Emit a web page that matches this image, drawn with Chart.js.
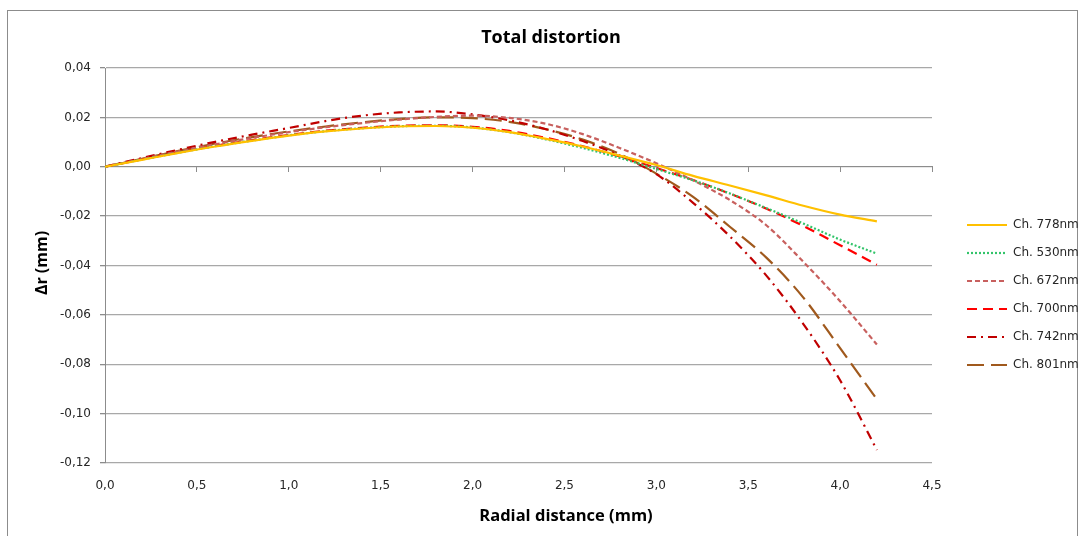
<!DOCTYPE html>
<html>
<head>
<meta charset="utf-8">
<script src="https://cdn.jsdelivr.net/npm/chart.js@4.4.1/dist/chart.umd.min.js"></script>
<style>
  body { margin: 0; background: #fff; }
  #wrap { width: 1080px; height: 536px; }
</style>
</head>
<body>
<div id="wrap"><canvas id="distChart" width="1080" height="536"></canvas></div>
<script>
// radial distance (mm)
var radius = [0.0, 0.2, 0.4, 0.6, 0.8, 1.0, 1.2, 1.4, 1.6, 1.8, 2.0,
              2.2, 2.4, 2.6, 2.8, 3.0, 3.2, 3.4, 3.6, 3.8, 4.0, 4.2];

// delta r (mm) per channel
var ch778 = [0, 0.0028, 0.0056, 0.0082, 0.0105, 0.0126, 0.0143, 0.0155, 0.0163, 0.0165, 0.0158,
             0.0140, 0.0113, 0.0082, 0.0045, 0.0007, -0.0037, -0.0076, -0.0116, -0.0158, -0.0194, -0.0221];
var ch530 = [0, 0.0029, 0.0057, 0.0083, 0.0106, 0.0127, 0.0144, 0.0156, 0.0164, 0.0166, 0.0159,
             0.0140, 0.0111, 0.0076, 0.0036, -0.0009, -0.0055, -0.0108, -0.0168, -0.0230, -0.0295, -0.0352];
var ch672 = [0, 0.0031, 0.0062, 0.0091, 0.0117, 0.0140, 0.0160, 0.0177, 0.0191, 0.0202, 0.0207,
             0.0198, 0.0174, 0.0132, 0.0076, 0.0014, -0.0055, -0.0135, -0.0238, -0.0385, -0.0545, -0.0720];
var ch700 = [0, 0.0030, 0.0058, 0.0085, 0.0108, 0.0129, 0.0146, 0.0158, 0.0166, 0.0168, 0.0162,
             0.0145, 0.0117, 0.0083, 0.0042, -0.0005, -0.0054, -0.0109, -0.0170, -0.0240, -0.0318, -0.0397];
var ch742 = [0, 0.0035, 0.0069, 0.0101, 0.0130, 0.0157, 0.0185, 0.0207, 0.0220, 0.0224, 0.0212,
             0.0188, 0.0152, 0.0104, 0.0046, -0.0030, -0.0146, -0.0282, -0.0442, -0.0637, -0.0865, -0.1147];
var ch801 = [0, 0.0032, 0.0064, 0.0094, 0.0120, 0.0143, 0.0163, 0.0180, 0.0193, 0.0200, 0.0197,
             0.0182, 0.0152, 0.0110, 0.0052, -0.0028, -0.0122, -0.0243, -0.0369, -0.0530, -0.0735, -0.0942];

var seriesNames = ['Ch. 778nm', 'Ch. 530nm', 'Ch. 672nm', 'Ch. 700nm', 'Ch. 742nm', 'Ch. 801nm'];

var yTicks = [0.04, 0.02, 0.00, -0.02, -0.04, -0.06, -0.08, -0.10, -0.12];
var xTicks = [0.0, 0.5, 1.0, 1.5, 2.0, 2.5, 3.0, 3.5, 4.0, 4.5];

var chartTitle = 'Total distortion';
var xTitle = 'Radial distance (mm)';
var yTitle = '\u0394r (mm)';

function pts(values) {
  return values.map(function(v, i) { return { x: radius[i], y: v }; });
}

function line(label, values, color, dash) {
  return {
    label: label,
    data: pts(values),
    borderColor: color,
    backgroundColor: color,
    borderWidth: 2.2,
    borderDash: dash,
    borderCapStyle: 'butt',
    pointRadius: 0,
    fill: false,
    cubicInterpolationMode: 'monotone'
  };
}

var comma = function(v, d) { return v.toFixed(d).replace('.', ','); };

// frame + titles like the spreadsheet export
var decor = {
  id: 'decor',
  beforeDraw: function(chart) {
    var c = chart.ctx;
    c.save();
    c.strokeStyle = '#8c8c8c';
    c.lineWidth = 1;
    c.strokeRect(7.5, 10.5, 1070, 540);
    c.restore();
  },
  afterDraw: function(chart) {
    var c = chart.ctx;
    c.save();
    c.fillStyle = '#000';
    c.textAlign = 'center';
    c.textBaseline = 'alphabetic';
    c.font = 'bold 18px "Open Sans"';
    c.fillText(chartTitle, 551, 43);
    c.font = 'bold 16.5px "Open Sans"';
    c.fillText(xTitle, 566, 521);
    c.translate(42, 263);
    c.rotate(-Math.PI / 2);
    c.textBaseline = 'middle';
    c.font = 'bold 16px "Open Sans"';
    c.fillText(yTitle, 0, 0);
    c.restore();
  }
};

// legend samples should carry the dataset's dash pattern
function legendLabels(chart) {
  var items = Chart.defaults.plugins.legend.labels.generateLabels(chart);
  items.forEach(function(it) {
    var ds = chart.data.datasets[it.datasetIndex];
    it.lineDash = ds.borderDash;
    it.lineWidth = ds.borderWidth;
    it.strokeStyle = ds.borderColor;
    it.lineCap = 'butt';
  });
  return items;
}

new Chart(document.getElementById('distChart').getContext('2d'), {
  type: 'line',
  data: {
    datasets: [
      line(seriesNames[0], ch778, '#FFC000', []),
      line(seriesNames[1], ch530, '#33C46A', [2, 2]),
      line(seriesNames[2], ch672, '#C8605E', [5, 3]),
      line(seriesNames[3], ch700, '#FF0000', [10, 6]),
      line(seriesNames[4], ch742, '#C00000', [9, 5, 2, 5]),
      line(seriesNames[5], ch801, '#A0591D', [17, 7])
    ]
  },
  options: {
    responsive: false,
    animation: false,
    layout: { padding: { top: 68, left: 0, right: 0, bottom: 14 } },
    plugins: {
      title: { display: false },
      tooltip: { enabled: false },
      legend: {
        position: 'right',
        maxWidth: 129,
        labels: {
          usePointStyle: true,
          pointStyle: 'line',
          pointStyleWidth: 40,
          padding: 16,
          color: '#262626',
          font: { family: 'DejaVu Sans', size: 12 },
          generateLabels: legendLabels
        }
      }
    },
    scales: {
      x: {
        type: 'linear',
        position: 'bottom',
        min: 0,
        max: 4.5,
        afterBuildTicks: function(s) { s.ticks = xTicks.map(function(v) { return { value: v }; }); },
        afterFit: function(s) { s.height = 59; },
        grid: { display: false },
        border: { display: false },
        ticks: {
          padding: 8,
          color: '#262626',
          font: { family: 'DejaVu Sans', size: 12 },
          callback: function(v) { return comma(v, 1); }
        }
      },
      xZero: {
        type: 'linear',
        axis: 'x',
        position: { y: 0 },
        min: 0,
        max: 4.5,
        afterBuildTicks: function(s) { s.ticks = xTicks.map(function(v) { return { value: v }; }); },
        grid: { drawOnChartArea: false, drawTicks: true, tickLength: 5, color: '#8c8c8c' },
        border: { display: true, color: '#8c8c8c', width: 1 },
        ticks: { display: false }
      },
      y: {
        position: 'left',
        min: -0.12,
        max: 0.04,
        afterBuildTicks: function(s) { s.ticks = yTicks.map(function(v) { return { value: v }; }); },
        afterFit: function(s) { s.width = 105; },
        grid: { color: '#a8a8a8', lineWidth: 1.3, drawTicks: true, tickLength: 5, tickColor: '#8c8c8c' },
        border: { display: true, color: '#8c8c8c', width: 1 },
        ticks: {
          padding: 9,
          color: '#262626',
          font: { family: 'DejaVu Sans', size: 12 },
          callback: function(v) { return comma(v, 2); }
        }
      },
      yGap: {
        position: 'right',
        grid: { display: false },
        border: { display: false },
        ticks: { display: false },
        afterFit: function(s) { s.width = 19; }
      }
    }
  },
  plugins: [decor]
});
</script>
</body>
</html>
